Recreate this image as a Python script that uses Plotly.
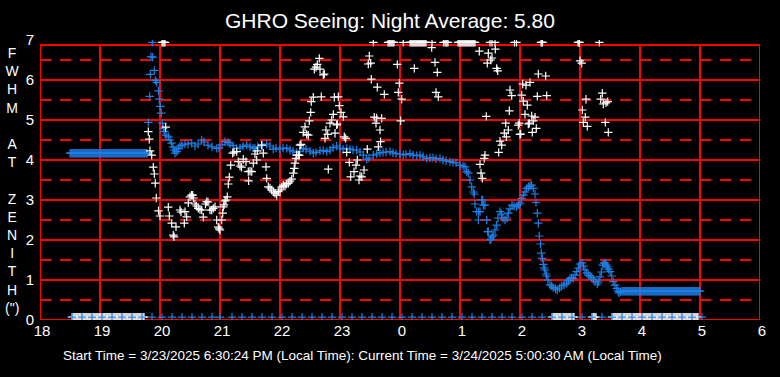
import plotly.graph_objects as go

# ---------------- data (minutes after 18:00 local) ----------------
TITLE = "GHRO Seeing: Night Average: 5.80"
FOOTER = "Start Time = 3/23/2025 6:30:24 PM (Local Time): Current Time = 3/24/2025 5:00:30 AM (Local Time)"
Y_LABEL_LETTERS = ["F", "W", "H", "M", " ", "A", "T", " ", "Z", "E", "N", "I", "T", "H", '(")']

x_tick_vals = [18, 19, 20, 21, 22, 23, 24, 25, 26, 27, 28, 29, 30]
x_tick_text = ["18", "19", "20", "21", "22", "23", "0", "1", "2", "3", "4", "5", "6"]
y_tick_vals = [0, 1, 2, 3, 4, 5, 6, 7]
y_tick_text = ["0", "1", "2", "3", "4", "5", "6", "7"]

# running average (blue): flat start level, varying part, flat end level
avg_early_t = [30, 31, 32, 33, 34, 35, 36, 37, 38, 39, 40, 41, 42, 43, 44, 45, 46, 47, 48, 49,
               50, 51, 52, 53, 54, 55, 56, 57, 58, 59, 60, 61, 62, 63, 64, 65, 66, 67, 68, 69,
               70, 71, 72, 73, 74, 75, 76, 77, 78, 79, 80, 81, 82, 83, 84, 85, 86, 87, 88, 89,
               90, 91, 92, 93, 94, 95, 96, 97, 98, 99, 100, 101, 102, 103, 104, 105, 106, 107]
avg_early_level = 4.17
avg_late_t = [582, 583, 584, 585, 586, 587, 588, 589, 590, 591, 592, 593, 594, 595, 596, 597,
              598, 599, 600, 601, 602, 603, 604, 605, 606, 607, 608, 609, 610, 611, 612, 613,
              614, 615, 616, 617, 618, 619, 620, 621, 622, 623, 624, 625, 626, 627, 628, 629,
              630, 631, 632, 633, 634, 635, 636, 637, 638, 639, 640, 641, 642, 643, 644, 645,
              646, 647, 648, 649, 650, 651, 652, 653, 654, 655, 656, 657, 658, 659, 660]
avg_late_level = 0.72

avg_t = [108.3, 109.7, 110.3, 111, 112.3, 112.7, 114.3, 115.3, 116.7, 118.5, 119.3, 120.3, 121.3,
         122.3, 123.3, 124.3, 126, 128.3, 130, 131.5, 133, 134, 135, 136.7, 138.3, 140,
         142, 145, 148, 151.7, 155, 158, 161.7, 164, 168, 172, 176.7, 179, 182, 185, 188, 190,
         193, 196.7, 200, 203, 206.7, 210, 213, 215, 218, 222, 226.7, 230, 233.3, 236, 240, 243,
         246.7, 250, 253, 256.7, 260, 263.3, 266, 270, 273.3, 276, 280, 283.3, 286.7, 290, 293,
         296.7, 300, 303, 306.7, 310, 313, 316.7, 320, 323.3, 326.7, 329, 333.3, 336.7, 340, 343,
         346, 350, 353, 356, 360, 363.3, 366, 370, 373, 376.7, 380, 383, 386.7, 390, 393, 396,
         400, 403, 406, 410, 413, 416, 420, 423, 425,
         426.7, 428.3, 430, 431.7, 433.3, 434.3, 435, 436.7, 438.3, 438.6, 440, 441.7, 442.7,
         443.3, 445, 446.7, 447.7, 448.3, 450, 451, 452, 453.3, 455, 456.7, 458, 460, 461.5, 463,
         465, 467, 468.3, 470, 472, 474, 476.7, 478.3, 480, 481.7, 483.3, 485, 486.7, 488.5, 490,
         491.5, 493.3, 495, 496, 497.3, 498.3, 499.3, 500.5, 501.3, 502.3, 503.3, 504.2, 505, 506,
         506.7, 508, 510, 511.7, 513.3, 515.5, 517.3, 519.5, 521.7, 524, 526.7, 528.5, 530, 531.7,
         533.3, 535, 536.7, 538.3, 540, 542, 543.5, 545, 546.7, 548.3, 550, 551.7, 553.3, 555,
         557.3, 558.7, 560, 561.3, 562.7, 564, 565, 566.3, 567.3, 568.7, 570, 571.7, 573.3, 575,
         576.7, 578, 579, 580.5]
avg_v = [4.94, 5.59, 6.14, 6.58, 7.0, 6.57, 6.24, 5.99, 5.94, 5.73, 5.52, 5.34, 5.17,
         4.92, 4.79, 4.71, 4.62, 4.58, 4.50, 4.42, 4.32, 4.25, 4.17, 4.21, 4.29, 4.35,
         4.37, 4.40, 4.40, 4.42, 4.35, 4.40, 4.50, 4.45, 4.37, 4.33, 4.29, 4.30, 4.38, 4.46, 4.44,
         4.40, 4.36, 4.29, 4.30, 4.34, 4.37, 4.33, 4.30, 4.29, 4.33, 4.37, 4.40, 4.35, 4.27, 4.30,
         4.27, 4.30, 4.29, 4.25, 4.22, 4.19, 4.22, 4.29, 4.27, 4.22, 4.17, 4.19, 4.23, 4.24, 4.21,
         4.25, 4.31, 4.35, 4.30, 4.27, 4.29, 4.27, 4.25, 4.25, 4.20, 4.12, 4.02, 4.05, 4.12, 4.15,
         4.18, 4.19, 4.20, 4.21, 4.18, 4.16, 4.15, 4.13, 4.14, 4.16, 4.12, 4.11, 4.12, 4.08, 4.04,
         4.05, 4.06, 4.03, 4.04, 4.00, 3.98, 3.96, 3.94, 3.93, 3.87, 3.85, 3.83,
         3.71, 3.67, 3.50, 3.33, 3.20, 3.15, 2.90, 2.71, 2.50, 2.71, 2.71, 3.00, 3.00,
         2.87, 2.87, 2.50, 2.21, 2.21, 2.00, 2.02, 2.08, 2.12, 2.25, 2.37, 2.55, 2.71, 2.65, 2.55,
         2.50, 2.55, 2.67, 2.78, 2.87, 2.85, 2.83, 2.88, 2.92, 3.04, 3.12, 3.20, 3.29, 3.33, 3.35,
         3.37, 3.29, 3.15, 2.94, 2.67, 2.42, 2.10, 1.90, 1.67, 1.54, 1.39, 1.30, 1.25, 1.15,
         1.10, 1.00, 0.88, 0.85, 0.81, 0.78, 0.75, 0.80, 0.85, 0.88, 0.92, 0.98, 1.04, 1.06,
         1.04, 1.12, 1.21, 1.30, 1.40, 1.43, 1.35, 1.25, 1.18, 1.12, 1.10, 1.07, 1.02, 0.96,
         0.90, 0.95, 1.08, 1.20, 1.37, 1.42, 1.43, 1.38, 1.33, 1.27, 1.21, 1.10, 0.96, 0.87,
         0.79, 0.72, 0.68, 0.70]

# individual measurements (white)
meas_t = [108.3, 109.3, 110, 111.7, 113.3, 114.3, 115.3, 116.3, 118.5, 120, 125.7,
          128.3, 129.3, 131.7, 133.3, 134, 136, 140, 141, 144.3, 145, 146.7, 148.3, 150, 151.5,
          152.7, 153.5, 155, 156.5, 158.3, 160, 161.7, 163.3, 165.5, 166.7, 168, 170, 171.7,
          173.3, 175, 176.7, 178.3, 179.2, 180, 181.7, 182.7, 183.3, 184, 185, 186, 187.3, 188.3,
          189.3, 190.7, 192.7, 194, 196.7, 198.3, 200, 201.5, 203.3, 206, 208.3, 208.6, 210,
          211.7, 213.3, 215, 216.7, 217.3, 221.7, 223.3,
          226, 226.7, 228.3, 230, 231.7, 233.5, 235, 236.7, 238.3, 240, 241.7, 243.3, 245, 246.5,
          248.3, 250, 251.7, 253.3, 254.3, 255, 256, 256.7, 258.3, 259.3, 260, 261, 263.3, 265,
          266.7, 268.3, 269.3, 270.7, 271.3, 273.3, 274.3, 276, 277.3, 279.3, 280, 281.3, 283.3,
          284.3,
          285, 286, 287.7, 288.3, 290, 291.7, 293.3, 294.3, 295, 296.7, 297.3, 298.3, 299.3, 301,
          303.3, 304.3, 305.7, 306.7, 309.3, 310.7, 314, 316, 317.3, 319, 320, 321.7, 324, 327.3,
          328.3, 329.3, 330.7, 331.3,
          334.3, 336, 336.7, 337.3, 338.3, 340, 340.5, 341.7, 344.3, 357.3, 358.3, 359.3, 360.7,
          361.7, 374.3,
          391.7, 395, 397.3, 396, 398.3, 439.3, 440, 441, 442.3, 444.3, 445, 446.3, 447.3, 448.3,
          450.7, 452, 455.3, 456.7, 457.7, 458.7, 460, 461.7, 464.3, 465.7,
          466.3, 468.3, 469.3, 470, 471.7, 478.3, 479.3, 480, 480.7, 481.7, 482.7, 483.3, 485,
          486, 487.3, 488.3, 489.3, 490, 491.7, 492.3, 493.3, 495, 496.3, 497.3, 498.3, 505.7,
          506.7, 540, 541.7, 542.3, 543.3, 545.3, 546, 547.3, 560.7, 562.3, 563.3, 565.3, 566,
          567.7, 568.3]
meas_v = [4.71, 4.52, 4.23, 4.12, 3.82, 3.65, 3.42, 3.05, 2.73, 2.60, 4.82,
          2.82, 2.60, 2.42, 2.12, 2.08, 2.33, 2.75, 2.70, 2.42, 2.71, 2.58, 2.93, 3.08, 3.12,
          3.12, 3.05, 2.90, 2.85, 2.79, 2.76, 2.75, 2.57, 2.90, 2.96, 2.95, 2.75, 2.75,
          2.79, 2.83, 2.50, 2.32, 2.28, 2.25, 2.50, 2.67, 2.83, 2.88, 2.98, 3.00, 3.08, 3.40,
          3.57, 3.87, 4.17, 4.20, 4.21, 3.96, 3.85, 3.82, 4.02, 3.96, 3.71, 3.48, 3.72,
          3.71, 3.92, 4.15, 4.00, 4.23, 4.37, 4.17,
          3.83, 3.54, 3.33, 3.30, 3.25, 3.20, 3.17, 3.12, 3.21, 3.25, 3.33, 3.37, 3.35, 3.40,
          3.42, 3.47, 3.52, 3.67, 3.79, 3.92, 4.04, 4.12, 4.12, 4.12, 4.37, 4.39, 4.69, 4.83,
          4.64, 4.62, 4.98, 5.19, 5.46, 5.57, 6.27, 6.32, 6.39, 6.54, 6.27, 5.58, 6.13,
          6.15,
          4.54, 4.75, 4.64, 3.77, 4.92, 5.00, 5.14, 5.57, 4.67, 4.88, 4.90, 5.58, 5.36, 5.19,
          5.08, 4.58, 4.54, 4.19, 3.94, 3.58, 3.71, 3.87, 4.00, 3.50, 3.60, 3.58, 3.75, 4.27,
          6.40, 6.60, 6.42, 6.02,
          5.07, 4.92, 5.05, 5.82, 4.33, 4.75, 4.46, 5.04, 5.64, 6.39, 5.69, 5.92, 4.98,
          5.52, 6.29,
          6.81, 6.44, 6.19, 5.69, 5.58, 6.72, 3.89, 3.67, 3.54, 4.04, 4.12, 5.09, 6.42, 6.67,
          6.50, 6.55, 6.77, 6.29, 6.23, 4.19, 4.47, 4.37, 4.67, 4.92,
          4.58, 4.75, 5.23, 5.75, 5.61, 4.87, 4.92, 4.64, 4.65, 5.62, 5.90, 5.47, 5.14,
          5.87, 5.37, 4.90, 4.92, 5.94, 5.10, 4.69, 4.98, 5.07, 4.79, 5.59, 6.15, 6.10,
          5.61, 6.48, 6.42, 5.25, 4.94, 5.07, 5.52, 4.84, 5.52, 5.67, 5.40, 4.94, 5.43,
          5.46, 4.69]

# measurements above the 7" ceiling (drawn pinned at the top)
meas_high_t = [122, 123, 124, 125, 333.3, 348, 349, 350, 351, 352, 353, 354, 363.3,
               370, 371, 372, 373, 374, 375, 376, 377, 378, 379, 380, 381, 382, 383, 384, 385,
               386, 392, 403.5, 405, 406, 407, 408, 418, 419, 420, 421, 422, 423, 424, 425,
               426, 427, 428, 429, 430, 431, 432, 433, 434, 435, 450, 452, 455, 474.5, 476.5,
               501, 502, 502.5, 538, 539, 539.5, 559.3]

# times with no seeing value (drawn on the zero line)
meas_none_t = [32, 33, 34, 35, 36, 37, 38, 39, 40, 41, 42, 43, 44, 45, 46, 47, 48, 49, 50, 51,
               52, 53, 54, 55, 56, 57, 58, 59, 60, 61, 62, 63, 64, 65, 66, 67, 68, 69, 70, 71,
               72, 73, 74, 75, 76, 77, 78, 79, 80, 81, 82, 83, 84, 85, 86, 87, 88, 89, 90, 91,
               92, 93, 94, 95, 96, 97, 98, 99, 100, 101, 102, 103, 104,
               512, 513, 514, 515, 516, 517, 518, 519, 520, 521, 522, 523, 524, 525, 526, 527,
               528, 529, 530, 531, 532, 533, 534,
               552, 553, 554, 555, 556,
               572, 573, 574, 575, 576, 577, 578, 579, 580, 581, 582, 583, 584, 585, 586, 587,
               588, 589, 590, 591, 592, 593, 594, 595, 596, 597, 598, 599, 600, 601, 602, 603,
               604, 605, 606, 607, 608, 609, 610, 611, 612, 613, 614, 615, 616, 617, 618, 619,
               620, 621, 622, 623, 624, 625, 626, 627, 628, 629, 630, 631, 632, 633, 634, 635,
               636, 637, 638, 639, 640, 641, 642, 643, 644, 645, 646, 647, 648, 649, 650, 651,
               652, 653, 654, 655, 656, 657, 658]
avg_none_t = [32, 42, 52, 62, 72, 82, 92, 102, 112, 122, 132, 142, 152, 162, 172, 180,
              192, 202, 212, 222, 232, 242, 252, 262, 272, 282, 292, 302, 312, 322, 332, 342,
              352, 362, 372, 382, 392, 402, 412, 422, 432, 442, 452, 462, 472, 482, 492, 502,
              512, 522, 532, 542, 552, 562, 572, 582, 592, 602, 612, 622, 632, 642, 652, 662]

# ---------------- styling ----------------
BLUE = "#1e7fe6"
WHITE = "#ffffff"
RED = "#ff0000"
FONT = "Liberation Sans, Arial, sans-serif"
CEIL = 6.94      # drawing level for values clipped at 7
FLOOR = 0.07     # drawing level for the no-data row
GRID_W = 2


def hours(ts):
    return [18 + t / 60.0 for t in ts]


def clip(vs):
    return [min(v, CEIL) for v in vs]


def cross(color):
    return dict(symbol="cross-thin", size=6, color=color, line=dict(color=color, width=1.2))


fig = go.Figure()
fig.add_trace(go.Scatter(x=hours(meas_none_t), y=[FLOOR] * len(meas_none_t), mode="markers",
                         marker=cross(WHITE), cliponaxis=True, hoverinfo="skip"))
fig.add_trace(go.Scatter(x=hours(avg_none_t), y=[FLOOR] * len(avg_none_t), mode="markers",
                         marker=cross(BLUE), cliponaxis=True, hoverinfo="skip"))
fig.add_trace(go.Scatter(x=hours(avg_early_t), y=[avg_early_level] * len(avg_early_t),
                         mode="markers", marker=cross(BLUE), cliponaxis=True))
fig.add_trace(go.Scatter(x=hours(avg_t), y=clip(avg_v), mode="markers",
                         marker=cross(BLUE), cliponaxis=True))
fig.add_trace(go.Scatter(x=hours(avg_late_t), y=[avg_late_level] * len(avg_late_t),
                         mode="markers", marker=cross(BLUE), cliponaxis=True))
fig.add_trace(go.Scatter(x=hours(meas_t), y=clip(meas_v), mode="markers",
                         marker=cross(WHITE), cliponaxis=True))
fig.add_trace(go.Scatter(x=hours(meas_high_t), y=[CEIL] * len(meas_high_t), mode="markers",
                         marker=cross(WHITE), cliponaxis=True))

TOP = 6.875
shapes = []
for xv in x_tick_vals:
    shapes.append(dict(type="line", xref="x", yref="y", x0=xv, x1=xv, y0=0, y1=TOP,
                       line=dict(color=RED, width=GRID_W), layer="below"))
for yv in [0, 1, 2, 3, 4, 5, 6, TOP]:
    shapes.append(dict(type="line", xref="x", yref="y", x0=18, x1=30, y0=yv, y1=yv,
                       line=dict(color=RED, width=GRID_W), layer="below"))
for yv in [0.5, 1.5, 2.5, 3.5, 4.5, 5.5, 6.5]:
    shapes.append(dict(type="line", xref="x", yref="y", x0=18, x1=30, y0=yv, y1=yv,
                       line=dict(color=RED, width=GRID_W, dash="11px,9px"), layer="below"))


# plot area: x 40..760 (720 px), y 40..320 (280 px)
def px_x(p):
    return (p - 40) / 720.0


def px_y(p):
    return (320 - p) / 280.0


annotations = [
    dict(text=TITLE, xref="paper", yref="paper", x=px_x(390), y=px_y(20.5),
         xanchor="center", yanchor="middle", showarrow=False,
         font=dict(family=FONT, size=21, color=WHITE)),
    dict(text="<br>".join(Y_LABEL_LETTERS), xref="paper", yref="paper",
         x=px_x(12), y=px_y(180), xanchor="center", yanchor="middle",
         showarrow=False, align="center", font=dict(family=FONT, size=14, color=WHITE)),
    dict(text=FOOTER, xref="paper", yref="paper", x=px_x(362), y=px_y(355),
         xanchor="center", yanchor="middle", showarrow=False,
         font=dict(family=FONT, size=13.5, color=WHITE)),
]

fig.update_layout(
    width=780, height=377,
    margin=dict(l=40, r=20, t=40, b=57, pad=0),
    paper_bgcolor="black", plot_bgcolor="black",
    showlegend=False,
    shapes=shapes,
    annotations=annotations,
    font=dict(family=FONT, color=WHITE, size=15),
)
fig.update_xaxes(range=[18, 30], tickvals=x_tick_vals, ticktext=x_tick_text,
                 showgrid=False, zeroline=False, showline=False, ticks="",
                 ticklabelshift=2,
                 tickfont=dict(family=FONT, size=15, color=WHITE))
fig.update_yaxes(range=[0, 7], tickvals=y_tick_vals, ticktext=y_tick_text,
                 showgrid=False, zeroline=False, showline=False, ticks="",
                 ticklabelstandoff=5,
                 tickfont=dict(family=FONT, size=15, color=WHITE))

fig.write_html("out.html", config={"displayModeBar": False},
               post_script="document.body.style.margin='0';document.body.style.overflow='hidden';")
